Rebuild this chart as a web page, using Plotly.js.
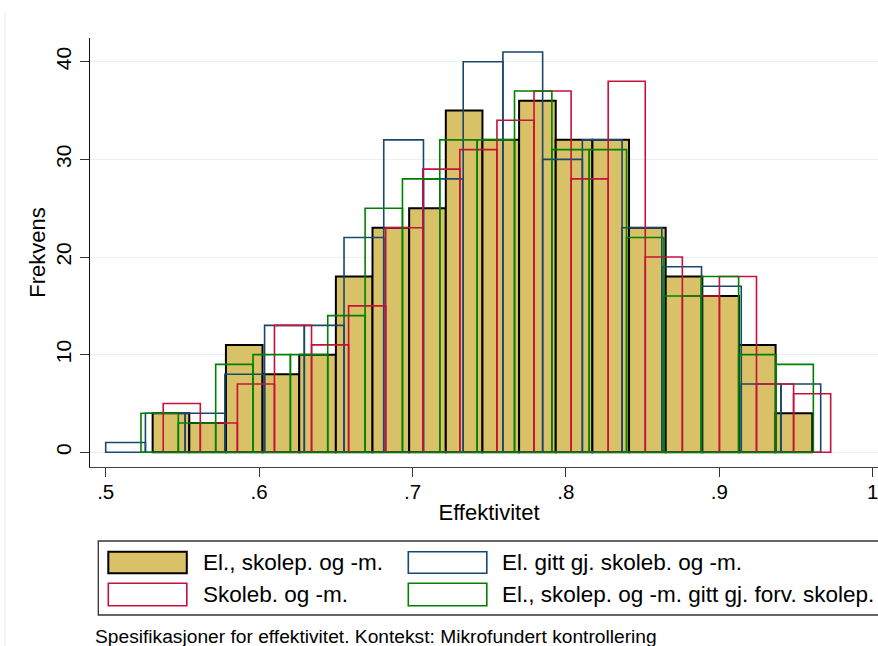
<!DOCTYPE html>
<html><head><meta charset="utf-8">
<script src="https://cdn.plot.ly/plotly-3.0.1.min.js"></script>
<style>html,body{margin:0;padding:0;overflow:hidden;background:#fff}#chart{width:888px;height:646px}</style>
</head><body><div id="chart"></div>
<script>
// ---- data ----
const seriesNames = [
  "El., skolep. og -m.",
  "El. gitt gj. skoleb. og -m.",
  "Skoleb. og -m.",
  "El., skolep. og -m. gitt gj. forv. skolep."
];
const countsElSkolep = [4, 3, 11, 8, 10, 18, 23, 25, 35, 32, 36, 32, 32, 23, 18, 16, 11, 4];
const countsElGitt   = [1, 4, 4, 8, 13, 13, 22, 32, 28, 40, 41, 30, 32, 23, 19, 17, 7, 7];
const countsSkoleb   = [5, 3, 7, 13, 11, 15, 23, 29, 31, 34, 37, 28, 38, 20, 16, 18, 7, 6];
const countsElForv   = [4, 3, 9, 10, 10, 14, 25, 28, 32, 32, 37, 31, 31, 22, 16, 18, 10, 9];
// bin range (min, max) of each histogram
const rangeElSkolep = [0.5306, 0.9606];
const rangeElGitt   = [0.5000, 0.9661];
const rangeSkoleb   = [0.5375, 0.9726];
const rangeElForv   = [0.5230, 0.9613];
const xTickVals = [0.5, 0.6, 0.7, 0.8, 0.9, 1];
const xTickText = [".5", ".6", ".7", ".8", ".9", "1"];
const yTickVals = [0, 10, 20, 30, 40];
const yTickText = ["0", "10", "20", "30", "40"];
const xTitle = "Effektivitet";
const yTitle = "Frekvens";
const noteText = "Spesifikasjoner for effektivitet. Kontekst: Mikrofundert kontrollering";

// ---- styles ----
const FONT = "Liberation Sans, Arial, Helvetica, sans-serif";
const styles = [
  {fill: "#d8c166", line: "#000000", lw: 2},
  {fill: "rgba(0,0,0,0)", line: "#1a476f", lw: 1.6},
  {fill: "rgba(0,0,0,0)", line: "#c8103c", lw: 1.6},
  {fill: "rgba(0,0,0,0)", line: "#008000", lw: 1.6}
];

function makeBars(counts, range, name, st) {
  const w = (range[1] - range[0]) / counts.length;
  const x = counts.map((_, i) => range[0] + w * (i + 0.5));
  return {
    type: "bar", x: x, y: counts, width: w, name: name,
    marker: {color: st.fill, line: {color: st.line, width: st.lw}},
    showlegend: false, hovertemplate: name + "<br>%{x:.3f}: %{y}<extra></extra>"
  };
}

const traces = [
  makeBars(countsElSkolep, rangeElSkolep, seriesNames[0], styles[0]),
  makeBars(countsElGitt, rangeElGitt, seriesNames[1], styles[1]),
  makeBars(countsSkoleb, rangeSkoleb, seriesNames[2], styles[2]),
  makeBars(countsElForv, rangeElForv, seriesNames[3], styles[3])
];

// ---- layout helpers (pixel -> paper) ----
const W = 888, H = 646, ML = 90, MR = 0, MT = 38, MB = 179;
const PW = W - ML - MR, PH = H - MT - MB;
const px = v => (v - ML) / PW;
const py = v => (H - MB - v) / PH;

const shapes = [];
const annotations = [];
// faint graph-region edge
shapes.push({type: "line", xref: "paper", yref: "paper", x0: px(5), x1: px(5), y0: py(12), y1: py(646),
  line: {color: "#ebebeb", width: 1}});
// legend box
shapes.push({type: "rect", xref: "paper", yref: "paper", x0: px(98.3), x1: px(886), y0: py(615), y1: py(541),
  line: {color: "#333333", width: 1.3}, fillcolor: "rgba(0,0,0,0)"});
const legPos = [
  {sx: 108.3, tx: 201, y0: 551.7, y1: 573.3},
  {sx: 408.3, tx: 500, y0: 551.7, y1: 573.3},
  {sx: 108.3, tx: 201, y0: 583.3, y1: 605.7},
  {sx: 408.3, tx: 500, y0: 583.3, y1: 605.7}
];
const swW = 78.5;
legPos.forEach((p, i) => {
  const st = styles[i];
  shapes.push({type: "rect", xref: "paper", yref: "paper",
    x0: px(p.sx), x1: px(p.sx + swW), y0: py(p.y1), y1: py(p.y0),
    line: {color: st.line, width: st.lw}, fillcolor: st.fill === "rgba(0,0,0,0)" ? "#ffffff" : st.fill});
  annotations.push({xref: "paper", yref: "paper", x: px(p.tx), y: py((p.y0 + p.y1) / 2),
    xanchor: "left", yanchor: "middle", showarrow: false, text: seriesNames[i],
    font: {family: FONT, size: 22.5, color: "#000"}});
});
annotations.push({xref: "paper", yref: "paper", x: px(93), y: py(636), xanchor: "left", yanchor: "middle",
  showarrow: false, text: noteText, font: {family: FONT, size: 19.2, color: "#000"}});

const layout = {
  width: W, height: H,
  margin: {l: ML, r: MR, t: MT, b: MB, pad: 0},
  paper_bgcolor: "#ffffff", plot_bgcolor: "#ffffff",
  barmode: "overlay",
  font: {family: FONT, color: "#000"},
  showlegend: false,
  xaxis: {
    range: [0.48977, 1.00997], tickvals: xTickVals, ticktext: xTickText,
    ticks: "outside", ticklen: 9, tickwidth: 1.2, tickcolor: "#333",
    showline: true, linecolor: "#444", linewidth: 1.3,
    showgrid: false, zeroline: false, ticklabelstandoff: -3,
    tickfont: {family: FONT, size: 20.5, color: "#000"},
    title: {text: xTitle, font: {family: FONT, size: 22, color: "#000"}, standoff: 2}
  },
  yaxis: {
    range: [-1.505, 42.43], tickvals: yTickVals, ticktext: yTickText, tickangle: -90,
    ticks: "outside", ticklen: 9, tickwidth: 1.2, tickcolor: "#333",
    showline: true, linecolor: "#111", linewidth: 1.3,
    showgrid: true, gridcolor: "#e8f0f2", gridwidth: 1.2, zeroline: false,
    tickfont: {family: FONT, size: 21, color: "#000"},
    title: {text: yTitle, font: {family: FONT, size: 22, color: "#000"}, standoff: 0}
  },
  shapes: shapes,
  annotations: annotations
};

Plotly.newPlot("chart", traces, layout, {displayModeBar: false, staticPlot: false});
</script>
</body></html>
